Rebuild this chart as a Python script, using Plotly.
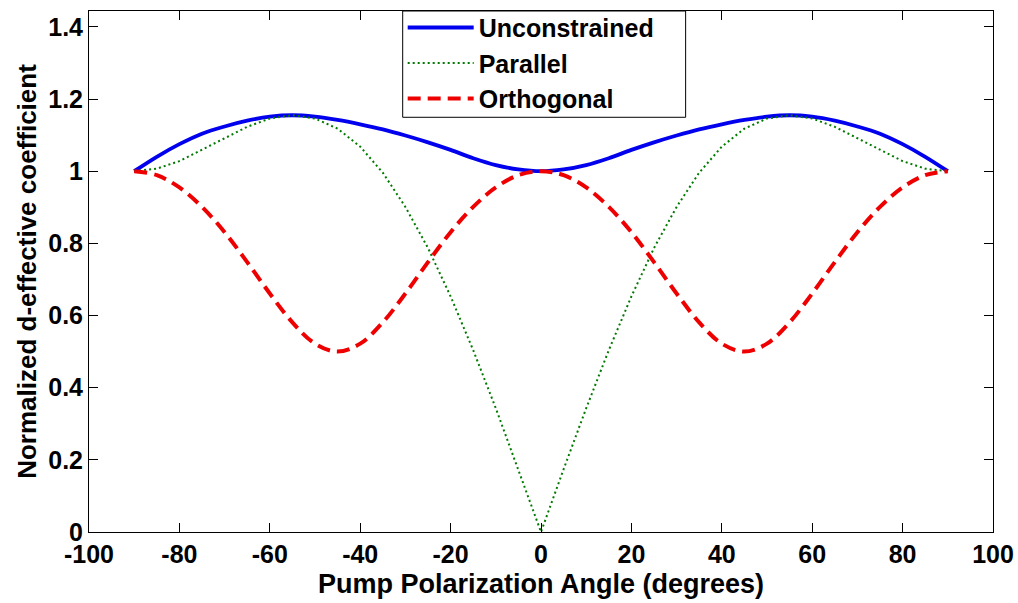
import plotly.graph_objects as go

angle = [-90, -85, -80, -75, -70, -65, -60, -55, -50, -45, -40, -35, -30, -25, -20, -15, -10, -5,
         0, 5, 10, 15, 20, 25, 30, 35, 40, 45, 50, 55, 60, 65, 70, 75, 80, 85, 90]

unconstrained = [1.000, 1.040, 1.075, 1.104, 1.124, 1.140, 1.151, 1.155, 1.151, 1.142, 1.130, 1.116,
                 1.099, 1.080, 1.059, 1.036, 1.017, 1.005, 1.000, 1.005, 1.017, 1.036, 1.059, 1.080,
                 1.099, 1.116, 1.130, 1.142, 1.151, 1.155, 1.151, 1.140, 1.124, 1.104, 1.075, 1.040, 1.000]

parallel = [1.000, 1.007, 1.028, 1.059, 1.092, 1.123, 1.146, 1.155, 1.146, 1.118, 1.068, 0.996,
            0.901, 0.787, 0.653, 0.504, 0.343, 0.174, 0.000, 0.174, 0.343, 0.504, 0.653, 0.787,
            0.901, 0.996, 1.068, 1.118, 1.146, 1.155, 1.146, 1.123, 1.092, 1.059, 1.028, 1.007, 1.000]

orthogonal = [1.000, 0.989, 0.955, 0.901, 0.831, 0.748, 0.661, 0.581, 0.522, 0.500, 0.522, 0.581,
              0.661, 0.748, 0.831, 0.901, 0.955, 0.989, 1.000, 0.989, 0.955, 0.901, 0.831, 0.748,
              0.661, 0.581, 0.522, 0.500, 0.522, 0.581, 0.661, 0.748, 0.831, 0.901, 0.955, 0.989, 1.000]

x_ticks = [-100, -80, -60, -40, -20, 0, 20, 40, 60, 80, 100]
x_tick_text = ["-100", "-80", "-60", "-40", "-20", "0", "20", "40", "60", "80", "100"]
y_ticks = [0, 0.2, 0.4, 0.6, 0.8, 1, 1.2, 1.4]
y_tick_text = ["0", "0.2", "0.4", "0.6", "0.8", "1", "1.2", "1.4"]

x_title = "Pump Polarization Angle (degrees)"
y_title = "Normalized d-effective coefficient"

FONT = "Liberation Sans"

fig = go.Figure()
fig.add_trace(go.Scatter(x=angle, y=unconstrained, mode="lines", name="Unconstrained",
                         line=dict(color="#0000ee", width=3.8, shape="spline")))
fig.add_trace(go.Scatter(x=angle, y=parallel, mode="lines", name="Parallel",
                         line=dict(color="#007a00", width=2, dash="2px,3px")))
fig.add_trace(go.Scatter(x=angle, y=orthogonal, mode="lines", name="Orthogonal",
                         line=dict(color="#ee0000", width=4, dash="13px,7px", shape="spline")))

axis_common = dict(showline=True, linecolor="black", linewidth=1, mirror="allticks",
                   ticks="inside", ticklen=9, tickcolor="black", showgrid=False,
                   zeroline=False, automargin=False,
                   tickfont=dict(family=FONT, size=25, color="black", weight="bold"))

fig.update_xaxes(range=[-100, 100], tickvals=x_ticks, ticktext=x_tick_text, **axis_common)
fig.update_yaxes(range=[0, 1.444], tickvals=y_ticks, ticktext=y_tick_text,
                 title=dict(text=y_title, standoff=4,
                            font=dict(family=FONT, size=26, color="black", weight="bold")),
                 **axis_common)

# x-axis title placed as text below the tick labels
fig.add_annotation(text=x_title, xref="paper", yref="paper", x=0.5, y=-0.099,
                   xanchor="center", yanchor="middle", showarrow=False,
                   font=dict(family=FONT, size=27, color="black", weight="bold"))

# legend frame (wider than plotly's auto box, as in the reference)
fig.add_shape(type="rect", xref="paper", yref="paper",
              x0=0.347, x1=0.660, y0=0.796, y1=1.0,
              line=dict(color="black", width=1), fillcolor="white", layer="above")

fig.update_layout(
    width=1018, height=603,
    margin=dict(l=89, r=25, t=5, b=71),
    paper_bgcolor="white", plot_bgcolor="white",
    legend=dict(x=0.347, y=1.012, xanchor="left", yanchor="top",
                bgcolor="rgba(0,0,0,0)", borderwidth=0,
                font=dict(family=FONT, size=25, color="black", weight="bold"),
                tracegroupgap=0, itemwidth=66),
    showlegend=True,
)

fig.write_html("out.html", post_script="document.body.style.margin='0';",
               config={"displayModeBar": False})
